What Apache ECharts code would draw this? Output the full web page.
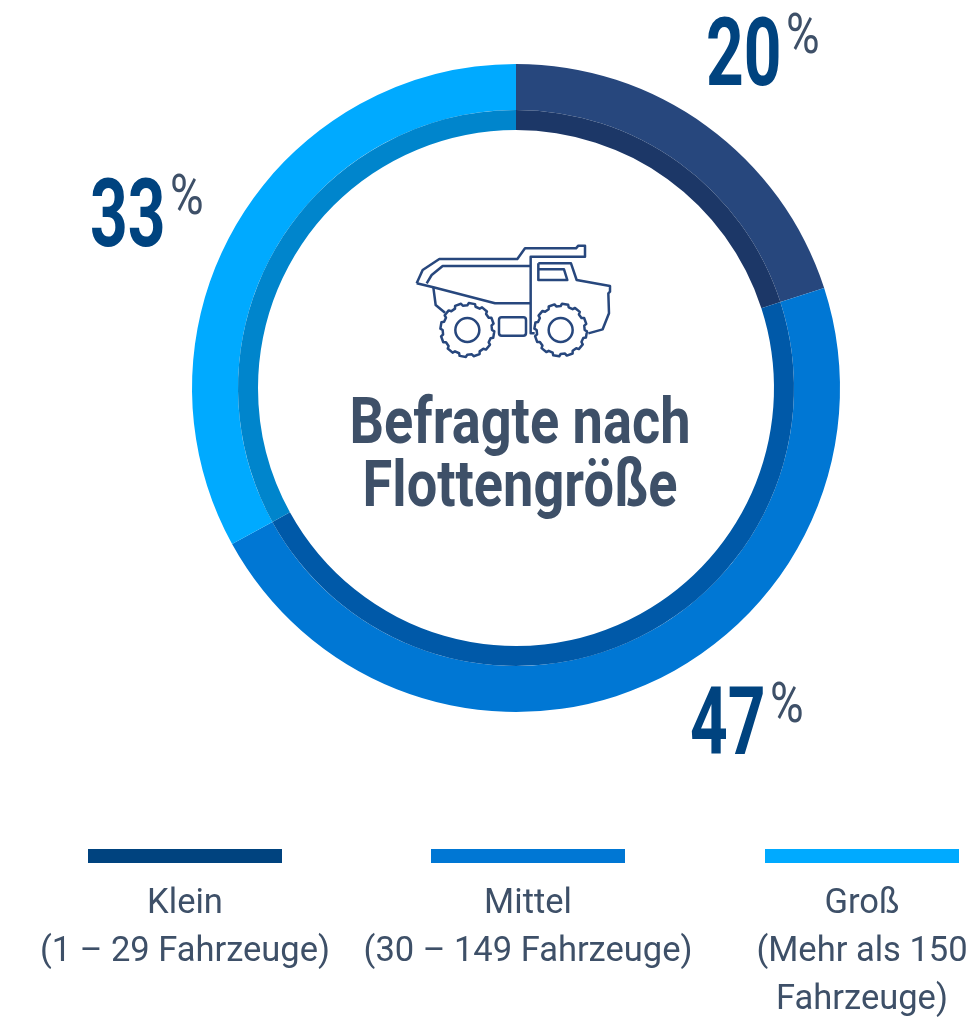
<!DOCTYPE html>
<html>
<head>
<meta charset="utf-8">
<style>
html, body { margin: 0; padding: 0; background: #fff; }
#chart { width: 974px; height: 1017px; }
</style>
<script src="https://cdn.jsdelivr.net/npm/echarts@6/dist/echarts.min.js"></script>
</head>
<body>
<div id="chart"></div>
<script>
let categories = ['Klein', 'Mittel', 'Groß'];
let ranges = [['(1 – 29 Fahrzeuge)'], ['(30 – 149 Fahrzeuge)'], ['(Mehr als 150', 'Fahrzeuge)']];
let shares = [20, 47, 33];
let outerColors = ['#27477d', '#0077d4', '#00aaff'];
let innerColors = ['#1c3767', '#0059a8', '#0085cc'];
let legendColors = ['#00437f', '#0077d4', '#00aaff'];

let textColor = '#3e5068';
let numberColor = '#00437f';
let font = 'Roboto';

// where the big percent figures and the legend columns sit
let numberPos = [[706, 85], [690, 754], [90, 246]];
let legendX = [88, 431, 765];
let legendTextX = [185, 528, 862];

let myChart = echarts.init(document.getElementById('chart'));

function pieData(colors) {
    return categories.map(function (name, i) {
        return { name: name, value: shares[i], itemStyle: { color: colors[i] } };
    });
}

// tyre outline with lugs, in the icon's own coordinates
function tyre(cx, cy, r) {
    let pts = [];
    let lugs = 12;
    let step = Math.PI * 2 / lugs;
    for (let i = 0; i < lugs; i++) {
        let a = i * step;
        [[r - 7, a], [r, a + step * 0.1], [r, a + step * 0.55], [r - 7, a + step * 0.65]].forEach(function (p) {
            pts.push([cx + Math.cos(p[1]) * p[0], cy + Math.sin(p[1]) * p[0]]);
        });
    }
    return pts;
}

function truck() {
    let stroke = { stroke: '#27477d', lineWidth: 7.5, fill: null, lineJoin: 'round' };
    let lines = [
        [[50,160],[68,120],[118,87],[352,87],[375,55],[528,55],[535,47],[555,47],[555,80],[392,80],[392,310],[404,310]],
        [[80,160],[95,135],[128,108],[392,108]],
        [[50,160],[100,172],[285,220],[392,220]],
        [[100,172],[107,225],[135,248]],
        [[415,100],[513,100],[530,150],[630,168],[630,185],[625,190],[627,250],[608,298],[565,310]],
        [[415,100],[415,150],[502,150],[492,118],[415,118]]
    ];
    let children = lines.map(function (pts) {
        return { type: 'polyline', shape: { points: pts }, style: stroke };
    });
    children.push({ type: 'polygon', shape: { points: tyre(202, 300, 81) }, style: stroke });
    children.push({ type: 'polygon', shape: { points: tyre(482, 300, 79) }, style: stroke });
    children.push({ type: 'rect', shape: { x: 297, y: 262, width: 81, height: 55, r: 8 }, style: stroke });
    children.push({ type: 'circle', shape: { cx: 202, cy: 300, r: 36 }, style: stroke });
    children.push({ type: 'circle', shape: { cx: 482, cy: 300, r: 36 }, style: stroke });
    return { type: 'group', x: 400, y: 230, scaleX: 1 / 3, scaleY: 1 / 3, silent: true, children: children };
}

let graphic = [truck()];

graphic.push({
    type: 'text', x: 520, y: 459, scaleX: 0.846, silent: true,
    style: { text: 'Befragte nach', fill: textColor, font: 'bold 64px ' + font, textAlign: 'center', textVerticalAlign: 'bottom' }
});
graphic.push({
    type: 'text', x: 520, y: 522, scaleX: 0.846, silent: true,
    style: { text: 'Flottengröße', fill: textColor, font: 'bold 64px ' + font, textAlign: 'center', textVerticalAlign: 'bottom' }
});

shares.forEach(function (v, i) {
    graphic.push({
        type: 'text', x: numberPos[i][0], y: numberPos[i][1] + 23, scaleX: 0.7, silent: true,
        style: { text: String(v), fill: numberColor, font: 'bold 94px ' + font, textAlign: 'left', textVerticalAlign: 'bottom' }
    });
    graphic.push({
        type: 'text', x: numberPos[i][0] + 80, y: numberPos[i][1] - 18, scaleX: 0.82, silent: true,
        style: { text: '%', fill: textColor, font: '56px ' + font, textAlign: 'left', textVerticalAlign: 'bottom' }
    });
});

categories.forEach(function (name, i) {
    graphic.push({
        type: 'rect', silent: true,
        shape: { x: legendX[i], y: 849, width: 194, height: 14 },
        style: { fill: legendColors[i] }
    });
    [name].concat(ranges[i]).forEach(function (line, j) {
        graphic.push({
            type: 'text', x: legendTextX[i], y: 887 + j * 48, silent: true,
            style: { text: line, fill: textColor, font: '34.5px ' + font, textAlign: 'center', textVerticalAlign: 'top' }
        });
    });
});

let option = {
    backgroundColor: '#fff',
    animation: false,
    graphic: graphic,
    series: [{
        type: 'pie',
        silent: true,
        center: [516, 388],
        radius: [278, 324],
        startAngle: 90,
        label: { show: false },
        labelLine: { show: false },
        data: pieData(outerColors)
    }, {
        type: 'pie',
        silent: true,
        center: [516, 388],
        radius: [258, 278],
        startAngle: 90,
        label: { show: false },
        labelLine: { show: false },
        data: pieData(innerColors)
    }]
};
myChart.setOption(option);
</script>
</body>
</html>
